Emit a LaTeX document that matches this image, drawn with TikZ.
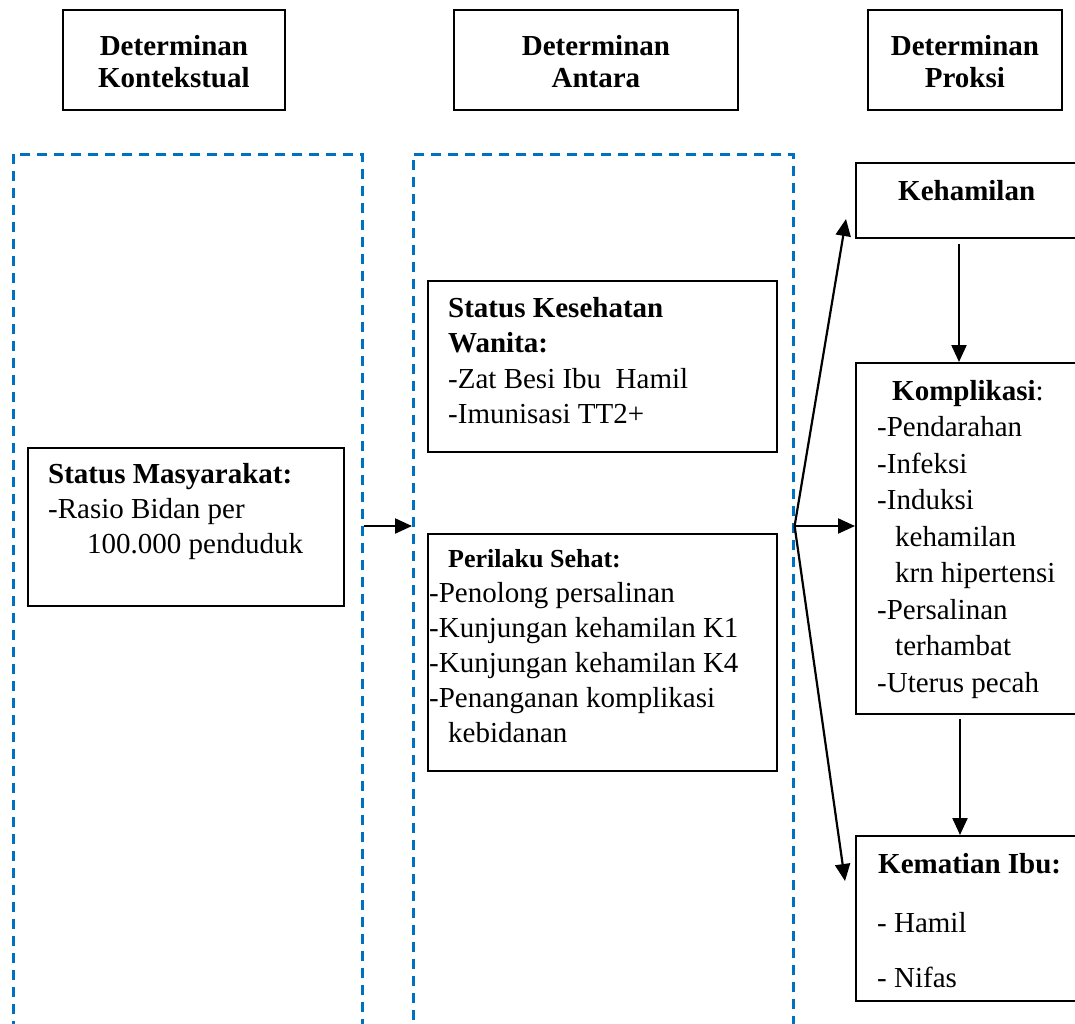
\documentclass[tikz,border=0pt]{standalone}
\usepackage{fontspec}
\setmainfont{Liberation Serif}
\usetikzlibrary{arrows.meta}
\definecolor{dashblue}{RGB}{0,112,192}
\begin{document}
\begin{tikzpicture}[x=1pt,y=-1pt,
  box/.style={draw, line width=1.8pt, anchor=north west, inner sep=0pt},
  dbox/.style={draw=dashblue, line width=2.6pt, dash pattern=on 10pt off 7pt, anchor=north west, inner sep=0pt},
  txt/.style={anchor=base west, inner sep=0pt, font=\fontsize{29}{35}\selectfont},
  btxt/.style={txt, font=\fontsize{29}{35}\selectfont\bfseries},
  arr/.style={line width=2.2pt, -{Triangle[length=17pt,width=15pt]}}]
\useasboundingbox (0,0) rectangle (1075,1023);
\clip (0,0) rectangle (1075,1023);
% header boxes
\node[box, minimum width=222pt, minimum height=100pt] (h1) at (62,9) {};
\node[box, minimum width=284pt, minimum height=100pt] (h2) at (453,9) {};
\node[box, minimum width=194pt, minimum height=100pt] (h3) at (867,9) {};
\node[btxt, anchor=base] (h1a) at (h1.north |- 0,55) {Determinan};
\node[btxt, anchor=base] (h1b) at (h1.north |- 0,87) {Kontekstual};
\node[btxt, anchor=base] (h2a) at (h2.north |- 0,55) {Determinan};
\node[btxt, anchor=base] (h2b) at (h2.north |- 0,87) {Antara};
\node[btxt, anchor=base] (h3a) at (h3.north |- 0,55) {Determinan};
\node[btxt, anchor=base] (h3b) at (h3.north |- 0,87) {Proksi};
% dashed columns
\node[dbox, minimum width=349pt, minimum height=900pt] (c1) at (12,153) {};
\node[dbox, minimum width=380pt, minimum height=900pt] (c2) at (412,153) {};
% Status Masyarakat
\node[box, minimum width=316pt, minimum height=158pt] (sm) at (27,447) {};
\node[btxt] (sm1) at (48,483) {Status Masyarakat:};
\node[txt] (sm2) at (48,518) {-Rasio Bidan per};
\node[txt] (sm3) at (87,553) {100.000 penduduk};
% Status Kesehatan Wanita
\node[box, minimum width=349pt, minimum height=171pt] (sk) at (427,280) {};
\node[btxt] (sk1) at (448,317) {Status Kesehatan};
\node[btxt] (sk2) at (448,352) {Wanita:};
\node[txt] (sk3) at (448,388) {-Zat Besi Ibu\ \ Hamil};
\node[txt] (sk4) at (448,423) {-Imunisasi TT2+};
% Perilaku Sehat
\node[box, minimum width=349pt, minimum height=237pt] (ps) at (427,533) {};
\node[btxt, font=\fontsize{26}{32}\selectfont\bfseries] (ps1) at (448,567) {Perilaku Sehat:};
\node[txt] (ps2) at (429,602) {-Penolong persalinan};
\node[txt] (ps3) at (429,637) {-Kunjungan kehamilan K1};
\node[txt] (ps4) at (429,672) {-Kunjungan kehamilan K4};
\node[txt] (ps5) at (429,707) {-Penanganan komplikasi};
\node[txt] (ps6) at (448,742) {kebidanan};
% Kehamilan
\node[box, minimum width=240pt, minimum height=75pt] (ke) at (855,162) {};
\node[btxt] (ke1) at (898,200) {Kehamilan};
% Komplikasi
\node[box, minimum width=240pt, minimum height=351pt] (ko) at (855,362) {};
\node[txt] (ko1) at (892,400) {\textbf{Komplikasi}:};
\node[txt] (ko2) at (877,436.5) {-Pendarahan};
\node[txt] (ko3) at (877,473) {-Infeksi};
\node[txt] (ko4) at (877,509.5) {-Induksi};
\node[txt] (ko5) at (895,546) {kehamilan};
\node[txt] (ko6) at (895,582.5) {krn hipertensi};
\node[txt] (ko7) at (877,619) {-Persalinan};
\node[txt] (ko8) at (895,655.5) {terhambat};
\node[txt] (ko9) at (877,692) {-Uterus pecah};
% Kematian Ibu
\node[box, minimum width=240pt, minimum height=165pt] (km) at (855,835) {};
\node[btxt] (km1) at (878,873) {Kematian Ibu:};
\node[txt] (km2) at (877,932) {- Hamil};
\node[txt] (km3) at (877,987) {- Nifas};
% connectors
\coordinate (j1) at (c1.east |- 0,526);
\coordinate (j2) at (c2.east |- 0,526);
\coordinate (tke) at (846,219);
\coordinate (tkm) at (845,881);
\draw[arr] (j1) -- (j1 -| c2.west);
\draw[arr] (j2) -- (j2 -| ko.west);
\draw[arr] (j2) -- (tke);
\draw[arr] (j2) -- (tkm);
\draw[arr] (ke.south -| 959,0) ++(0,5) coordinate (a1) -- (a1 |- ko.north);
\draw[arr] (ko.south -| 960,0) ++(0,4) coordinate (a2) -- (a2 |- km.north);
\end{tikzpicture}
\end{document}
